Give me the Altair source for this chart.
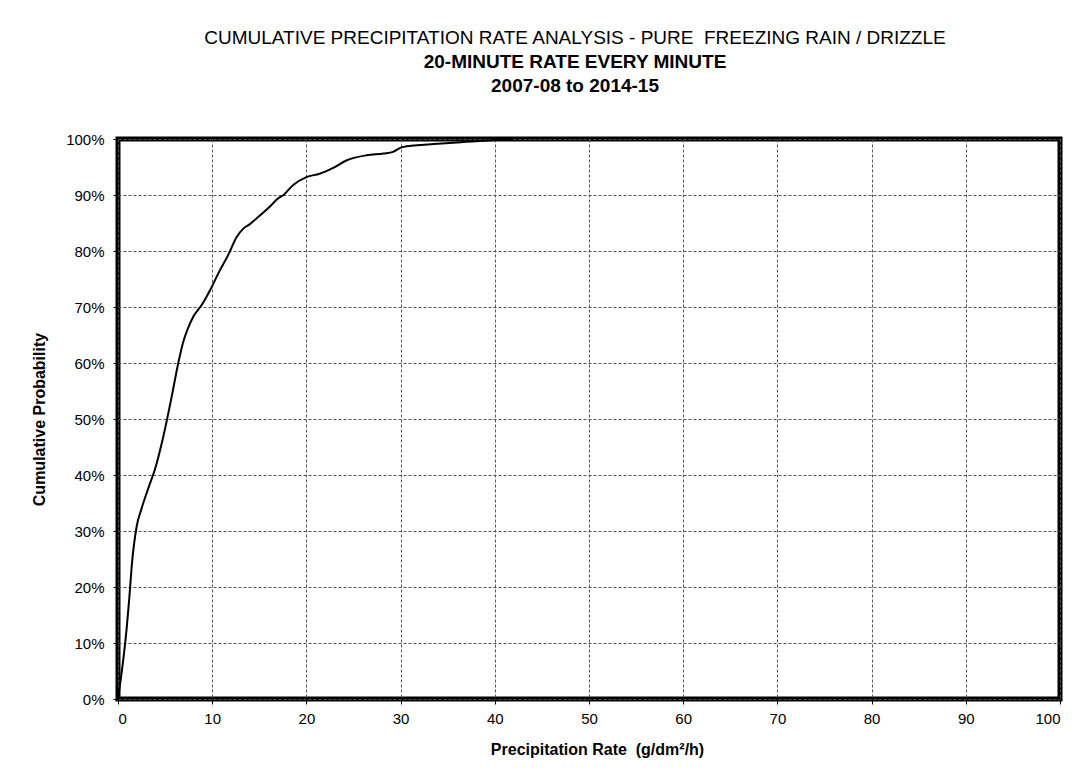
import altair as alt
import pandas as pd

rate = [0, 0.92, 1.2, 1.45, 1.98, 2.5, 3.4, 3.9, 4.8, 5.7, 6.4, 6.93, 7.36, 8.0, 8.9,
        9.77, 10.65, 11.7, 12.6, 13.3, 14.0, 14.7, 16.1, 17.0, 17.5, 18.6, 20.0, 21.4,
        22.9, 24.3, 26.4, 28.2, 29.2, 30.1, 31.7, 33.5, 35.2, 37.0, 38.8, 40.5, 42.0]
prob_pct = [0, 12.6, 18.0, 23.6, 30.8, 34.0, 38.5, 40.9, 46.8, 54.0, 60.0, 63.8, 65.9, 68.3, 70.4,
            73.0, 76.0, 79.3, 82.5, 84.0, 84.8, 85.8, 87.9, 89.4, 89.9, 91.8, 93.2, 93.8,
            94.9, 96.2, 97.1, 97.4, 97.7, 98.5, 98.9, 99.1, 99.3, 99.5, 99.7, 99.85, 100.0]

df = pd.DataFrame({"rate": rate, "prob": [p / 100 for p in prob_pct]})

FONT = "Liberation Sans"
NB = "\u00a0"

chart = alt.Chart(df).mark_line(color="black", strokeWidth=2, interpolate="monotone").encode(
    x=alt.X("rate:Q",
            scale=alt.Scale(domain=[0, 100], nice=False),
            axis=alt.Axis(values=list(range(0, 101, 10)),
                          title="Precipitation Rate " + NB + "(g/dm²/h)",
                          titleFontWeight="bold", titleFontSize=16, titlePadding=15,
                          titleX=479,
                          labelFontSize=15, labelPadding=7)),
    y=alt.Y("prob:Q",
            scale=alt.Scale(domain=[0, 1], nice=False),
            axis=alt.Axis(values=[i / 10 for i in range(11)], format=".0%",
                          title="Cumulative Probability", titleFontWeight="bold",
                          titleFontSize=16, titlePadding=18, labelFontSize=15, labelPadding=9)),
).properties(
    width=942,
    height=560,
    autosize=alt.AutoSizeParams(type="none"),
    padding={"left": 110, "top": 131, "right": 22, "bottom": 62},
    title=alt.TitleParams(
        text="CUMULATIVE PRECIPITATION RATE ANALYSIS - PURE " + NB + "FREEZING RAIN / DRIZZLE",
        subtitle=["20-MINUTE RATE EVERY MINUTE", "2007-08 to 2014-15"],
        anchor="middle", dx=-14, offset=36,
        fontSize=19, fontWeight="normal", color="black", font=FONT,
        subtitleFontSize=19, subtitleFontWeight="bold", subtitleColor="black",
        subtitleFont=FONT, subtitlePadding=5, subtitleLineHeight=24,
    ),
).configure(
    font=FONT,
).configure_axis(
    labelFont=FONT, titleFont=FONT, labelColor="black", titleColor="black",
    domain=False, ticks=True, tickColor="black", tickSize=5, tickWidth=1,
    grid=True, gridColor="#555555", gridDash=[3, 2], gridWidth=1, gridOpacity=1,
).configure_view(
    stroke="black", strokeWidth=5,
)

chart.save("out.html", embed_options={"renderer": "svg", "actions": False})
